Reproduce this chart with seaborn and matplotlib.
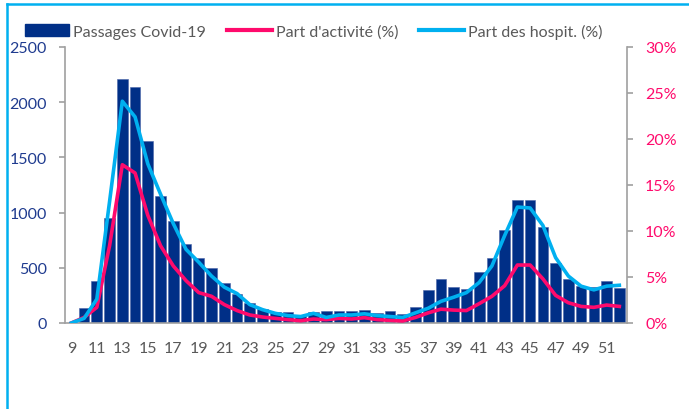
import matplotlib
matplotlib.use("Agg")
import matplotlib.pyplot as plt
from matplotlib.lines import Line2D
from matplotlib.patches import Patch
import pandas as pd
import seaborn as sns

# weekly data
weeks = list(range(9, 53))
passages = [0, 139, 383, 951, 2210, 2135, 1646, 1153, 921, 716,
            589, 495, 360, 263, 181, 127, 95, 97, 66, 100,
            108, 108, 106, 115, 90, 106, 81, 145, 299, 396,
            326, 305, 462, 589, 843, 1117, 1117, 870, 541, 399,
            332, 323, 383, 314]
part_activite = [0, 0.6, 1.7, 8.4, 17.2, 16.3, 11.7, 8.4, 6.2, 4.6,
                 3.3, 2.9, 2.0, 1.35, 0.87, 0.65, 0.5, 0.36, 0.25, 0.43,
                 0.36, 0.5, 0.43, 0.58, 0.36, 0.29, 0.22, 0.6, 1.1, 1.5,
                 1.4, 1.35, 2.1, 2.9, 4.05, 6.3, 6.3, 4.8, 3.0, 2.2,
                 1.8, 1.7, 1.95, 1.8]
part_hospit = [0, 0.5, 2.6, 13.2, 24.1, 22.4, 17.3, 14.0, 10.8, 8.0,
               6.6, 5.1, 3.9, 3.2, 2.0, 1.45, 1.05, 0.8, 0.7, 1.05,
               0.6, 0.87, 0.87, 1.0, 0.8, 0.7, 0.6, 1.1, 1.6, 2.35,
               2.8, 3.3, 4.4, 6.2, 9.5, 12.6, 12.5, 10.6, 7.1, 5.1,
               4.0, 3.6, 4.0, 4.1]
xticks = list(range(9, 52, 2))

navy = "#002f87"
pink = "#ff0a6c"
cyan = "#00b0f0"
gray = "#595959"

df = pd.DataFrame({"semaine": weeks, "passages": passages,
                   "activite": part_activite, "hospit": part_hospit})

plt.rcParams['font.family'] = ['Lato', 'DejaVu Sans']

fig = plt.figure(figsize=(6.89, 4.10), dpi=100)
ax = fig.add_axes([0.0943, 0.2098, 0.8157, 0.6732])

sns.barplot(data=df, x="semaine", y="passages", native_scale=True,
            color=navy, width=0.84, saturation=1, edgecolor="#4a64a8",
            linewidth=0.4, ax=ax)
ax.set_xlim(8.5, 52.6)
ax.set_ylim(0, 2500)
ax.set_yticks([0, 500, 1000, 1500, 2000, 2500])
ax.set_xticks(xticks)
ax.set_xticklabels([str(w) for w in xticks])
ax.set_xlabel("")
ax.set_ylabel("")

ax2 = ax.twinx()
sns.lineplot(data=df, x="semaine", y="activite", color=pink, lw=2.6, ax=ax2)
sns.lineplot(data=df, x="semaine", y="hospit", color=cyan, lw=2.6, ax=ax2)
ax2.set_ylim(0, 30)
ax2.set_yticks([0, 5, 10, 15, 20, 25, 30])
ax2.set_yticklabels([f"{v}%" for v in [0, 5, 10, 15, 20, 25, 30]])
ax2.set_ylabel("")
ax2.set_xlim(8.5, 52.6)

for a in (ax, ax2):
    a.spines["top"].set_visible(False)
    for s in ("left", "right", "bottom"):
        a.spines[s].set_color("#a0a0a0")
        a.spines[s].set_linewidth(1.2)
ax.spines["right"].set_visible(False)
ax2.spines["left"].set_visible(False)
ax2.spines["bottom"].set_visible(False)

ax.tick_params(axis="x", length=0, pad=13, labelsize=11.5, labelcolor=gray)
ax.tick_params(axis="y", length=4, width=1.2, color="#a0a0a0", pad=9,
               labelsize=11.5, labelcolor="#1f3b8f")
ax2.tick_params(axis="y", length=4, width=1.2, color="#a0a0a0", pad=9,
                labelsize=11.5, labelcolor=pink)

handles = [Patch(facecolor=navy, edgecolor=navy),
           Line2D([0], [0], color=pink, lw=3),
           Line2D([0], [0], color=cyan, lw=3)]
labels = ["Passages Covid-19", "Part d'activité (%)", "Part des hospit. (%)"]
fig.legend(handles, labels, loc="center", bbox_to_anchor=(0.455, 0.922),
           ncol=3, frameon=False, fontsize=11.5, labelcolor=gray,
           handlelength=2.8, handleheight=0.75, handletextpad=0.25,
           columnspacing=1.3)

# cyan frame (top and left edges visible)
fig.add_artist(Line2D([0.0105, 1.0], [0.988, 0.988], color=cyan, lw=1.8,
                      transform=fig.transFigure))
fig.add_artist(Line2D([0.0105, 0.0105], [0.0, 0.988], color=cyan, lw=1.8,
                      transform=fig.transFigure))

fig.savefig("out.png", dpi=100)
